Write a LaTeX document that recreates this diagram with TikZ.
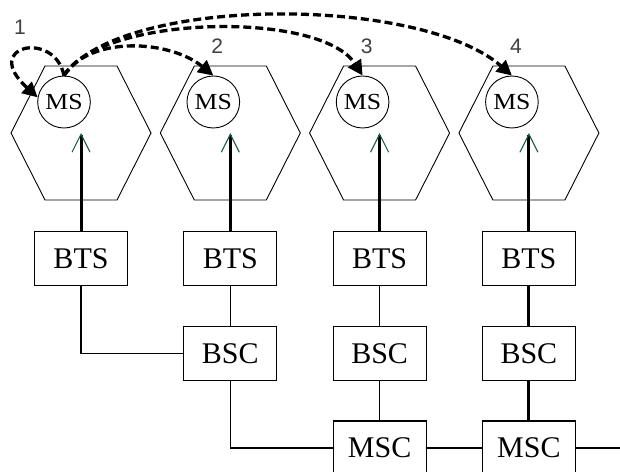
\documentclass[tikz,border=0pt]{standalone}
\usepackage{graphicx}
\usepackage{fontspec}
\setmainfont{Liberation Serif}
\newfontfamily\numfont{Liberation Sans}
\usepackage{tikz}
\usetikzlibrary{
    arrows.meta,
    shapes.geometric,
    calc,
    positioning,
}
\definecolor{tipGreen}{RGB}{20,95,75}

\begin{document}
\begin{tikzpicture}[x=1pt,y=-1pt,>={Triangle[length=15pt,width=15pt]}]

    \tikzstyle{commonNode}=[draw=black, line width=1.2pt, align=center]
    \tikzstyle{station}=[commonNode, rectangle, minimum width=93pt, minimum height=54pt, inner sep=0pt, font=\fontsize{30}{32}\selectfont]
    \tikzstyle{mobile}=[commonNode, ellipse, line width=0.9pt, minimum width=48pt, minimum height=52pt, inner sep=0pt, font=\fontsize{23}{25}\selectfont]
    \tikzstyle{cell}=[line width=0.9pt]
    \tikzstyle{link}=[line width=1.2pt]
    \tikzstyle{heavyLink}=[line width=3pt]
    \tikzstyle{uplink}=[line width=3pt, -{Straight Barb[color=tipGreen, line width=1.1pt, length=18pt, width=18pt]}]
    \tikzstyle{handover}=[line width=3.3pt, dash pattern=on 8pt off 4pt, ->]
    \tikzstyle{number}=[font=\numfont\fontsize{21}{23}\selectfont, text=black!75, inner sep=0pt]

    \useasboundingbox (0,0) rectangle (620,471);

    % Spacing the cells out
    \def \hspacing {149.3}
    \def \xfirst {81}

    % Cells, mobiles and base stations
    \foreach \i in {1,...,4} {
        \coordinate (C\i) at (\xfirst+\i*\hspacing-\hspacing, 133);
        \draw [cell] ($(C\i)+(-36,-67)$) -- ($(C\i)+(36,-67)$) -- ($(C\i)+(70,0)$)
            -- ($(C\i)+(36,67)$) -- ($(C\i)+(-36,67)$) -- ($(C\i)+(-70,0)$) -- cycle;
        \node at ($(C\i)+(-17,-31)$) [mobile]  (MS\i)  {\scalebox{1.12}[1]{MS}};
        \node at ($(C\i)+(0,125.5)$) [station] (BTS\i) {BTS};
        \draw [uplink] (BTS\i) -- (C\i);
    }

    % Controllers
    \node [station, below=40pt of BTS2] (BSC2) {BSC};
    \node [station, below=40pt of BTS3] (BSC3) {BSC};
    \node [station, below=40pt of BTS4] (BSC4) {BSC};
    \node [station, below=39pt of BSC3] (MSC3) {MSC};
    \node [station, below=39pt of BSC4] (MSC4) {MSC};
    \coordinate (EDGE) at (622, 0);

    % Wires
    \draw [link]      (BTS1) |- (BSC2);
    \draw [link]      (BTS2) -- (BSC2);
    \draw [link]      (BTS3) -- (BSC3);
    \draw [heavyLink] (BTS4) -- (BSC4);
    \draw [link]      (BSC2) |- (MSC3);
    \draw [link]      (BSC3) -- (MSC3);
    \draw [heavyLink] (BSC4) -- (MSC4);
    \draw [link]      (MSC3) -- (MSC4);
    \draw [link]      (MSC4) -- (MSC4 -| EDGE);

    % Handovers
    \draw [handover] (MS1.north) .. controls (55,30) and (-20,45) .. (MS1.170);
    \draw [handover] (MS1.north) .. controls (90,35) and (170,40) .. (MS2.north);
    \draw [handover] (MS1.north) .. controls (100,15) and (320,10) .. (MS3.north);
    \draw [handover] (MS1.north) .. controls (120,-5) and (420,-5) .. (MS4.north);

    % Numbers
    \node [number] at ($(MS1.north)+(-44,-48)$) (N1) {1};
    \foreach \i in {2,3,4} {
        \node [number] at ($(MS\i.north)+(4,-29)$) (N\i) {\i};
    }
\end{tikzpicture}
\end{document}
